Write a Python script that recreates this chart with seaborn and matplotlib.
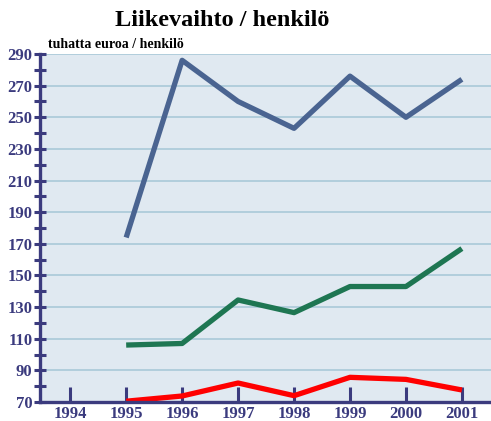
import matplotlib
matplotlib.use("Agg")
import matplotlib.pyplot as plt
from matplotlib.ticker import FixedLocator
import pandas as pd
import seaborn as sns

years = [1995, 1996, 1997, 1998, 1999, 2000, 2001]
series_a = [174, 286, 260, 243, 276, 250, 274]
series_b = [106, 107, 134.5, 126.5, 143, 143, 167]
series_c = [70.5, 73.8, 82, 74, 85.6, 84.3, 77.6]
series_names = ["A", "B", "C"]
palette = ["#4a6491", "#1e7652", "#ff0000"]
x_ticks = [1994, 1995, 1996, 1997, 1998, 1999, 2000, 2001]
y_major = [70, 90, 110, 130, 150, 170, 190, 210, 230, 250, 270, 290]
y_minor = [80, 100, 120, 140, 160, 180, 200, 220, 240, 260, 280]

df = pd.DataFrame({
    "vuosi": years * 3,
    "arvo": series_a + series_b + series_c,
    "sarja": [n for n in series_names for _ in years],
})

sns.set_theme(style="white")
plt.rcParams["font.family"] = ["Liberation Serif", "DejaVu Serif"]

navy = "#3b3b7e"
fig = plt.figure(figsize=(4.91, 4.21), dpi=100)
ax = fig.add_axes([40 / 491, 19 / 421, 451 / 491, 348 / 421])
ax.set_facecolor("#e0e9f1")

sns.lineplot(data=df, x="vuosi", y="arvo", hue="sarja", palette=palette,
             linewidth=3.8, legend=False, ax=ax, solid_capstyle="butt")

ax.set_xlim(1993.46, 2001.52)
ax.set_ylim(70, 290)
ax.set_xticks(x_ticks)
ax.set_xticklabels([str(y) for y in x_ticks])
ax.yaxis.set_major_locator(FixedLocator(y_major))
ax.yaxis.set_minor_locator(FixedLocator(y_minor))
ax.grid(axis="y", which="major", color="#a9c9d8", linewidth=1.2)
ax.set_axisbelow(True)

for side in ["top", "right"]:
    ax.spines[side].set_visible(False)
for side in ["left", "bottom"]:
    ax.spines[side].set_color(navy)
    ax.spines[side].set_linewidth(2.4)

ax.tick_params(axis="y", which="both", direction="inout", length=9, width=2.2,
               color=navy, labelcolor=navy, labelsize=12, pad=1, left=True)
ax.tick_params(axis="x", which="both", direction="in", length=11, width=2.2,
               color=navy, labelcolor=navy, labelsize=12, pad=3, bottom=True)
for lbl in ax.get_xticklabels() + ax.get_yticklabels():
    lbl.set_fontweight("bold")
ax.set_xlabel("")
ax.set_ylabel("")

fig.text(0.453, 0.952, "Liikevaihto / henkilö", ha="center", va="center",
         fontsize=17.5, fontweight="bold", color="black")
fig.text(48 / 491, 0.895, "tuhatta euroa / henkilö", ha="left", va="center",
         fontsize=10, fontweight="bold", color="black")

fig.savefig("out.png", dpi=100)
